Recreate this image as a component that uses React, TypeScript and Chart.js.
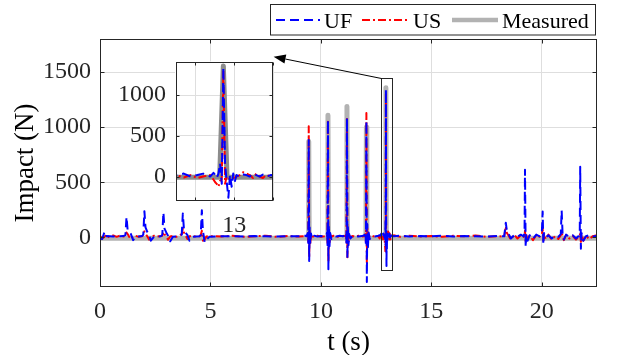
import React, { useEffect, useRef } from 'react';
import { Chart, registerables } from 'chart.js';

Chart.register(...registerables);

// ---------- data ----------
const TIME = [
  0, 0.1, 0.2, 0.25, 0.3, 0.45, 0.6, 0.75, 0.9, 1.05, 1.15, 1.2, 1.25, 1.32, 1.4, 1.5, 1.6, 1.75, 1.9, 1.96,
  2.01, 2.06, 2.14, 2.22, 2.3, 2.45, 2.6, 2.75, 2.82, 2.87, 2.92, 3.0, 3.08, 3.18, 3.3, 3.45, 3.6, 3.7, 3.75, 3.8,
  3.88, 3.96, 4.05, 4.2, 4.35, 4.5, 4.56, 4.61, 4.66, 4.74, 4.82, 4.95,
  5.5, 6.0, 6.5, 7.0, 7.5, 8.0, 8.5, 9.0, 9.3,
  9.35, 9.41, 9.43, 9.45, 9.47, 9.49, 9.52, 9.55, 9.6, 9.7, 9.85, 10.0, 10.15, 10.25,
  10.28, 10.3, 10.32, 10.34, 10.36, 10.39, 10.42, 10.47, 10.57, 10.7, 10.85, 11.0, 11.1,
  11.14, 11.16, 11.18, 11.2, 11.22, 11.25, 11.28, 11.33, 11.43, 11.55, 11.7, 11.85, 11.97,
  12.02, 12.04, 12.06, 12.08, 12.1, 12.13, 12.16, 12.21, 12.31, 12.45, 12.6, 12.66,
  12.7, 12.74, 12.775, 12.81, 12.84, 12.876, 12.893, 12.902, 12.91, 12.919, 12.927, 12.936, 12.944, 12.953,
  12.961, 12.97, 12.978, 12.987, 12.995, 13.004, 13.012, 13.029, 13.046, 13.063, 13.08, 13.097, 13.114, 13.131,
  13.148, 13.165, 13.19,
  13.3, 13.6, 14.0, 14.5, 15.0, 15.5, 16.0, 16.5, 17.0, 17.5, 18.0, 18.25,
  18.3, 18.37, 18.42, 18.5, 18.6, 18.75, 18.9, 19.05, 19.18, 19.22, 19.24, 19.27, 19.3, 19.36, 19.45, 19.6,
  19.75, 19.9, 20.0, 20.04, 20.07, 20.1, 20.18, 20.3, 20.45, 20.6, 20.75, 20.86, 20.9, 20.94, 21.0, 21.1,
  21.25, 21.4, 21.55, 21.68, 21.72, 21.74, 21.77, 21.8, 21.88, 22.0, 22.15, 22.3, 22.5,
];

const UF = [
  -12, -15, 48, 10, 12, 10, 8, 14, 10, 12, 20, 186, 70, 45, 30, -25, 5, 8, 12, 25,
  238, 90, 50, 25, -30, 8, 5, 10, 22, 226, 80, 45, 15, -35, 5, 8, 12, 25, 216, 75,
  40, 20, -30, 5, 8, 10, 20, 247, 60, -45, -20, 5,
  10, 12, 8, 12, 10, 8, 12, 10, 15,
  10, 40, -50, 884, -213, 90, -60, 35, -10, 15, 8, 12, 10, 20,
  45, -70, 1060, -289, 110, -80, 40, -15, 12, 8, 15, 10, 18,
  40, -60, 1082, -191, 100, -70, 30, -10, 10, 15, 8, 12, 20,
  50, -80, 1054, -405, 120, -90, 45, -15, 10, 8, 15, 20,
  18, 36, 0, 18, 36, 0, 46, 18, -18, 36, 160, -89, 1340, 150,
  -54, -260, 18, -125, 36, -54, 18, 0, 25, 18, 0, 36, 18, 0,
  25, 0, 18,
  10, 15, 8, 12, 10, 15, 8, 12, 10, 8, 12, 10,
  10, 133, 60, 30, -10, 20, 5, 25, 10, 40, 613, -88, 30, -30, 20, -15,
  25, 10, 30, 234, -64, 40, 0, 20, -10, 15, 5, 30, 243, 40, -20, 25,
  5, 20, -10, 15, 60, 640, -103, 40, -30, 10, 20, 5, 15,
];

const US = [
  10, -10, 5, 15, -5, 12, 18, 5, 15, 8, 10, 45, 30, 5, -15, 10, 15, 5, 10, 20,
  55, 35, 10, -20, 5, 15, 8, 12, 15, 50, 30, 5, -20, 8, 15, 5, 18, 30, 80, 45,
  15, -15, 10, 15, 5, 10, 20, 60, -30, -20, 8, 12,
  8, 15, 5, 10, 15, 5, 12, 8, 10,
  8, 20, -40, 1008, -183, 60, -50, 20, 5, 10, 15, 5, 10, 15,
  25, -50, 1050, -220, 80, -60, 25, 5, 15, 5, 10, 12, 15,
  20, -45, 1075, -180, 70, -50, 20, 5, 12, 5, 15, 8, 10,
  30, -60, 1128, -228, 90, -60, 30, 5, 15, 5, 10, -10,
  18, -11, 18, -18, 0, 18, -36, -71, -90, -125, -54, -40, 1300, -89,
  0, -20, -36, -25, -18, -10, 0, 18, 54, 36, 18, -18, 36, 0,
  -18, 18, 0,
  20, 5, 15, 8, 12, 5, 15, 10, 18, 5, 10, 8,
  5, 100, 40, 15, -20, 25, -10, 20, 5, 15, 60, -40, 20, -20, 15, -25,
  20, 5, 25, 80, -30, 30, -15, 25, -20, 10, -15, 20, 50, 10, -25, 20,
  -10, 15, -20, 10, 20, 40, -40, 25, -30, 15, -15, 10, 20,
];

const MEAS_TIME = [0, 9.43, 9.45, 9.47, 10.3, 10.32, 10.34, 11.16, 11.18, 11.2, 12.04, 12.06, 12.08, 12.925, 12.944, 12.963, 22.5];
const MEASURED = [-8, -8, 870, -8, -8, 1109, -8, -8, 1188, -8, -8, 1000, -8, -8, 1357, -8, -8];

const SERIES_LABELS = ['UF', 'US', 'Measured'];
const X_TICKS = [0, 5, 10, 15, 20];
const Y_TICKS = [0, 500, 1000, 1500];
const X_RANGE = [0, 22.5];
const Y_RANGE = [-450, 1800];
const INSET_X_TICKS = [12.8, 13, 13.2];
const INSET_X_LABELS = ['', '13', ''];
const INSET_Y_TICKS = [0, 500, 1000];
const INSET_X_RANGE = [12.7, 13.2];
const INSET_Y_RANGE = [-300, 1400];
const ZOOM_BOX = { x0: 12.7, x1: 13.2, y0: -300, y1: 1450 };
const ARROW_TIP = { x: 7.86, y: 1640 };
const X_TITLE = 't (s)';
const Y_TITLE = 'Impact (N)';

// ---------- styles ----------
const FAMILY = "'Liberation Serif', 'Times New Roman', Times, serif";
const AXIS_COLOR = '#262626';
const GRID_COLOR = 'rgb(222,222,222)';
const TICK_FONT = { family: FAMILY, size: 24, lineHeight: 1.2 };
const BLUE = '#0000ff';
const RED = '#ff0000';

const pts = (xs: number[], ys: number[]) => xs.map((x, i) => ({ x, y: ys[i] }));

const lineCommon = {
  pointRadius: 0,
  pointHoverRadius: 0,
  pointHitRadius: 0,
  fill: false,
  tension: 0,
  borderJoinStyle: 'round',
  borderCapStyle: 'butt',
};

function makeDatasets(grey: string) {
  return [
    { ...lineCommon, label: SERIES_LABELS[0], data: pts(TIME, UF), borderColor: BLUE, borderWidth: 2, borderDash: [9, 5] },
    { ...lineCommon, label: SERIES_LABELS[1], data: pts(TIME, US), borderColor: RED, borderWidth: 2, borderDash: [8, 3, 2, 3] },
    { ...lineCommon, label: SERIES_LABELS[2], data: pts(MEAS_TIME, MEASURED), borderColor: grey, borderWidth: 5 },
  ];
}

function framePlugin(tickLen: number, whiteBg: boolean) {
  return {
    id: 'frame' + tickLen,
    beforeDraw(chart: any) {
      if (!whiteBg) return;
      const { ctx, chartArea: a } = chart;
      ctx.save();
      ctx.fillStyle = '#ffffff';
      ctx.fillRect(a.left - 1, a.top - 1, a.right - a.left + 2, a.bottom - a.top + 2);
      ctx.restore();
    },
    afterDatasetsDraw(chart: any) {
      const { ctx, chartArea: a, scales } = chart;
      const L = Math.round(a.left) + 0.5;
      const R = Math.round(a.right) - 0.5;
      const T = Math.round(a.top) + 0.5;
      const B = Math.round(a.bottom) - 0.5;
      ctx.save();
      ctx.strokeStyle = AXIS_COLOR;
      ctx.lineWidth = 1;
      ctx.setLineDash([]);
      ctx.beginPath();
      for (const t of scales.x.ticks) {
        const px = Math.round(scales.x.getPixelForValue(t.value)) + 0.5;
        ctx.moveTo(px, B);
        ctx.lineTo(px, B - tickLen);
        ctx.moveTo(px, T);
        ctx.lineTo(px, T + tickLen);
      }
      for (const t of scales.y.ticks) {
        const py = Math.round(scales.y.getPixelForValue(t.value)) + 0.5;
        ctx.moveTo(L, py);
        ctx.lineTo(L + tickLen, py);
        ctx.moveTo(R, py);
        ctx.lineTo(R - tickLen, py);
      }
      ctx.stroke();
      ctx.strokeRect(L, T, R - L, B - T);
      ctx.restore();
    },
  };
}

const annotationPlugin = {
  id: 'zoomAnnotation',
  afterDatasetsDraw(chart: any) {
    const { ctx, scales } = chart;
    const x0 = Math.round(scales.x.getPixelForValue(ZOOM_BOX.x0)) + 0.5;
    const x1 = Math.round(scales.x.getPixelForValue(ZOOM_BOX.x1)) + 0.5;
    const y0 = Math.round(scales.y.getPixelForValue(ZOOM_BOX.y0)) + 0.5;
    const y1 = Math.round(scales.y.getPixelForValue(ZOOM_BOX.y1)) + 0.5;
    ctx.save();
    ctx.setLineDash([]);
    ctx.strokeStyle = AXIS_COLOR;
    ctx.lineWidth = 1;
    ctx.strokeRect(x0, y1, x1 - x0, y0 - y1);
    // arrow
    const tx = scales.x.getPixelForValue(ARROW_TIP.x);
    const ty = scales.y.getPixelForValue(ARROW_TIP.y);
    const ang = Math.atan2(ty - y1, tx - x0);
    const headLen = 12;
    const headHalf = 4.5;
    const bx = tx - headLen * Math.cos(ang);
    const by = ty - headLen * Math.sin(ang);
    ctx.strokeStyle = '#000';
    ctx.beginPath();
    ctx.moveTo(x0, y1);
    ctx.lineTo(bx, by);
    ctx.stroke();
    ctx.fillStyle = '#000';
    ctx.beginPath();
    ctx.moveTo(tx, ty);
    ctx.lineTo(bx + headHalf * Math.sin(ang), by - headHalf * Math.cos(ang));
    ctx.lineTo(bx - headHalf * Math.sin(ang), by + headHalf * Math.cos(ang));
    ctx.closePath();
    ctx.fill();
    ctx.restore();
  },
};

const legendPlugin = {
  id: 'matlabLegend',
  afterDraw(chart: any) {
    const { ctx } = chart;
    const items = [
      { x0: 276, x1: 320, tx: 324 },
      { x0: 362, x1: 409, tx: 413 },
      { x0: 452, x1: 498, tx: 502 },
    ];
    ctx.save();
    ctx.fillStyle = '#fff';
    ctx.fillRect(270, 4, 326, 31);
    ctx.strokeStyle = AXIS_COLOR;
    ctx.lineWidth = 1;
    ctx.setLineDash([]);
    ctx.strokeRect(270.5, 4.5, 325, 30.5);
    chart.data.datasets.forEach((ds: any, i: number) => {
      const it = items[i];
      ctx.save();
      ctx.strokeStyle = ds.borderColor;
      ctx.lineWidth = Math.min(ds.borderWidth, 4.5);
      ctx.setLineDash(ds.borderDash || []);
      ctx.beginPath();
      ctx.moveTo(it.x0, 20);
      ctx.lineTo(it.x1, 20);
      ctx.stroke();
      ctx.restore();
      ctx.fillStyle = '#000';
      ctx.font = `22px ${FAMILY}`;
      ctx.textBaseline = 'middle';
      ctx.textAlign = 'left';
      ctx.fillText(ds.label, it.tx, 22.5);
    });
    ctx.restore();
  },
};

const noSidePadding = (s: any, h: number) => {
  s.height = h;
  s.paddingLeft = 0;
  s.paddingRight = 0;
};

export default function App() {
  const mainRef = useRef<HTMLCanvasElement>(null);
  const insetRef = useRef<HTMLCanvasElement>(null);

  useEffect(() => {
    document.body.style.margin = '0';
    const main = new Chart(mainRef.current as HTMLCanvasElement, {
      type: 'line',
      data: { datasets: makeDatasets('rgb(178,178,178)') as any },
      options: {
        animation: false,
        responsive: false,
        maintainAspectRatio: false,
        events: [],
        layout: { padding: { left: 0, top: 39, right: 22, bottom: 0 } },
        plugins: { legend: { display: false }, tooltip: { enabled: false } },
        scales: {
          x: {
            type: 'linear',
            min: X_RANGE[0],
            max: X_RANGE[1],
            afterBuildTicks: (s: any) => { s.ticks = X_TICKS.map((v) => ({ value: v })); },
            afterFit: (s: any) => noSidePadding(s, 68),
            ticks: { font: TICK_FONT, color: AXIS_COLOR, padding: 10, maxRotation: 0, autoSkip: false, callback: (v: any) => String(v) },
            grid: { color: GRID_COLOR, drawTicks: false, lineWidth: 1 },
            border: { display: false },
            title: { display: true, text: X_TITLE, color: '#000', font: { family: FAMILY, size: 27, lineHeight: 0.9 }, padding: 0 },
          },
          y: {
            type: 'linear',
            min: Y_RANGE[0],
            max: Y_RANGE[1],
            afterBuildTicks: (s: any) => { s.ticks = Y_TICKS.map((v) => ({ value: v })); },
            afterFit: (s: any) => { s.width = 100; },
            ticks: { font: TICK_FONT, color: AXIS_COLOR, padding: 9, callback: (v: any) => String(v) },
            grid: { color: GRID_COLOR, drawTicks: false, lineWidth: 1 },
            border: { display: false },
            title: { display: true, text: Y_TITLE, color: '#000', font: { family: FAMILY, size: 27, lineHeight: 1.2 }, padding: { top: 10, bottom: 0 } },
          },
        },
      } as any,
      plugins: [framePlugin(4, false), annotationPlugin, legendPlugin] as any,
    });

    const inset = new Chart(insetRef.current as HTMLCanvasElement, {
      type: 'line',
      data: { datasets: makeDatasets('rgb(140,140,140)') as any },
      options: {
        animation: false,
        responsive: false,
        maintainAspectRatio: false,
        events: [],
        layout: { padding: { left: 0, top: 5, right: 7, bottom: 0 } },
        plugins: { legend: { display: false }, tooltip: { enabled: false } },
        scales: {
          x: {
            type: 'linear',
            min: INSET_X_RANGE[0],
            max: INSET_X_RANGE[1],
            afterBuildTicks: (s: any) => { s.ticks = INSET_X_TICKS.map((v) => ({ value: v })); },
            afterFit: (s: any) => noSidePadding(s, 39),
            ticks: {
              font: TICK_FONT, color: AXIS_COLOR, padding: 10, maxRotation: 0, autoSkip: false,
              callback: (v: any, i: number) => INSET_X_LABELS[i],
            },
            grid: { color: GRID_COLOR, drawTicks: false, lineWidth: 1 },
            border: { display: false },
          },
          y: {
            type: 'linear',
            min: INSET_Y_RANGE[0],
            max: INSET_Y_RANGE[1],
            afterBuildTicks: (s: any) => { s.ticks = INSET_Y_TICKS.map((v) => ({ value: v })); },
            afterFit: (s: any) => { s.width = 66; },
            ticks: { font: TICK_FONT, color: AXIS_COLOR, padding: 10, callback: (v: any) => String(v) },
            grid: { color: GRID_COLOR, drawTicks: false, lineWidth: 1 },
            border: { display: false },
          },
        },
      } as any,
      plugins: [framePlugin(3, true)] as any,
    });

    return () => {
      main.destroy();
      inset.destroy();
    };
  }, []);

  return (
    <div style={{ position: 'fixed', left: 0, top: 0, width: 619, height: 355, background: '#fff', overflow: 'hidden' }}>
      <canvas ref={mainRef} width={619} height={355} style={{ position: 'absolute', left: 0, top: 0 }} />
      <canvas ref={insetRef} width={170} height={202} style={{ position: 'absolute', left: 110, top: 38 }} />
    </div>
  );
}
